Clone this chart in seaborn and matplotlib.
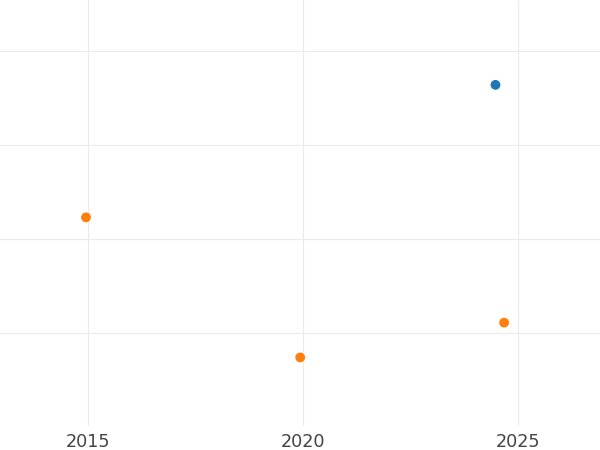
import matplotlib
matplotlib.use("Agg")
import matplotlib.pyplot as plt
import pandas as pd
import seaborn as sns

# values
years = [2024.47, 2014.95, 2019.93, 2024.67]
values = [3.64, 2.23, 0.74, 1.11]
series = ["A", "B", "B", "B"]
palette = {"A": "#1f77b4", "B": "#ff7f0e"}

df = pd.DataFrame({"year": years, "value": values, "series": series})

sns.set_style("white")
plt.rcParams["font.family"] = ["DejaVu Sans"]

fig = plt.figure(figsize=(6, 4.5), dpi=100)
ax = fig.add_axes([0, 1 - 426 / 450, 1, 426 / 450])

sns.scatterplot(data=df, x="year", y="value", hue="series", palette=palette,
                s=50, edgecolor="none", legend=False, ax=ax, zorder=3)

ax.set_xlim(2012.95, 2026.9)
ax.set_ylim(0.01, 4.543)
ax.set_xticks([2015, 2020, 2025])
ax.set_yticks([1, 2, 3, 4])
ax.set_yticklabels([])
ax.grid(True, color="#ebebeb", linewidth=0.8)
ax.set_axisbelow(True)
ax.tick_params(axis="both", length=0)
ax.tick_params(axis="x", labelsize=12.7, labelcolor="#444444", pad=5)
ax.set_xlabel("")
ax.set_ylabel("")
for spine in ax.spines.values():
    spine.set_visible(False)

fig.savefig("out.png", dpi=100)
